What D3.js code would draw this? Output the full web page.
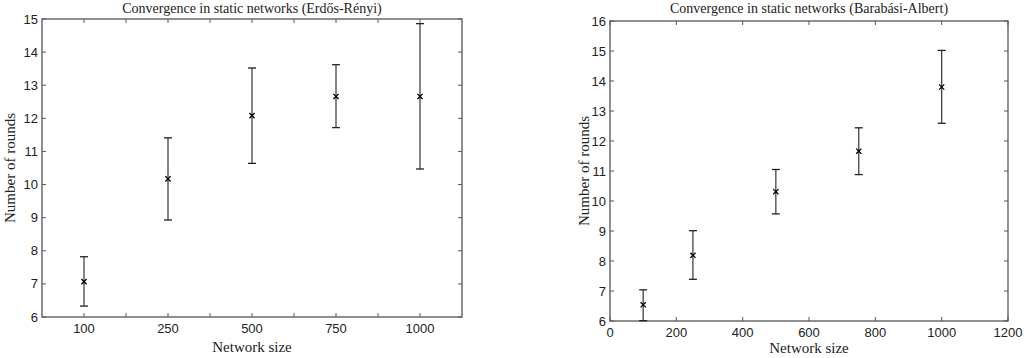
<!DOCTYPE html>
<html lang="en">
<head>
  <meta charset="UTF-8" />
  <title>Convergence in static networks</title>
  <script src="https://d3js.org/d3.v7.min.js"></script>
  <style>
    body { margin: 0; background: #fff; }
    .tick-label { font-family: "Liberation Sans", Arial, sans-serif; font-size: 13px; fill: #222; }
    .axis-label { font-family: "Liberation Serif", "DejaVu Serif", serif; font-size: 15px; fill: #222; }
    .title { font-family: "Liberation Serif", "DejaVu Serif", serif; font-size: 14px; fill: #222; }
  </style>
</head>
<body>
  <svg id="chart" width="1024" height="358"></svg>
  <script>
    // Left: Erdős-Rényi (categorical x)
    const erSizes = [100, 250, 500, 750, 1000];
    const erMean = [7.07, 10.17, 12.08, 12.66, 12.66];
    const erLow = [6.33, 8.93, 10.64, 11.72, 10.47];
    const erHigh = [7.82, 11.41, 13.52, 13.62, 14.86];

    // Right: Barabási-Albert (numeric x)
    const baSizes = [100, 250, 500, 750, 1000];
    const baMean = [6.54, 8.19, 10.31, 11.66, 13.80];
    const baLow = [6.01, 7.39, 9.57, 10.88, 12.59];
    const baHigh = [7.04, 9.01, 11.05, 12.44, 15.02];

    const svg = d3.select("#chart");
    const frame = "#555";
    const tickLen = 4;

    function drawPanel(opts) {
      const { left, right, top, bottom, x, y, xTicks, xLabelFmt, yTicks, title, pts } = opts;
      x.range([left, right]);
      y.range([bottom, top]);
      const g = svg.append("g");

      // frame box
      g.append("rect")
        .attr("x", left).attr("y", top)
        .attr("width", right - left).attr("height", bottom - top)
        .attr("fill", "none").attr("stroke", frame).attr("stroke-width", 1.3);

      // x ticks, inward on bottom and top
      xTicks.forEach((t) => {
        const px = x(t);
        g.append("line").attr("x1", px).attr("x2", px)
          .attr("y1", bottom).attr("y2", bottom - tickLen)
          .attr("stroke", frame).attr("stroke-width", 1);
        g.append("line").attr("x1", px).attr("x2", px)
          .attr("y1", top).attr("y2", top + tickLen)
          .attr("stroke", frame).attr("stroke-width", 1);
        const lab = xLabelFmt(t);
        if (lab !== "") {
          g.append("text").attr("class", "tick-label")
            .attr("x", px).attr("y", bottom + 16)
            .attr("text-anchor", "middle").text(lab);
        }
      });

      // y ticks, inward on left and right
      yTicks.forEach((t) => {
        const py = y(t);
        g.append("line").attr("x1", left).attr("x2", left + tickLen)
          .attr("y1", py).attr("y2", py)
          .attr("stroke", frame).attr("stroke-width", 1);
        g.append("line").attr("x1", right).attr("x2", right - tickLen)
          .attr("y1", py).attr("y2", py)
          .attr("stroke", frame).attr("stroke-width", 1);
        g.append("text").attr("class", "tick-label")
          .attr("x", left - 4).attr("y", py + 4.5)
          .attr("text-anchor", "end").text(t);
      });

      // title and labels
      const cx = (left + right) / 2;
      g.append("text").attr("class", "title")
        .attr("x", cx).attr("y", 13).attr("text-anchor", "middle").text(title);
      g.append("text").attr("class", "axis-label")
        .attr("x", cx).attr("y", opts.xLabelY).attr("text-anchor", "middle").text("Network size");
      g.append("text").attr("class", "axis-label")
        .attr("transform", `translate(${opts.yLabelX}, ${(top + bottom) / 2}) rotate(-90)`)
        .attr("text-anchor", "middle").text("Number of rounds");

      // error bars
      const cap = 4;
      pts.forEach((d) => {
        const px = x(d.x);
        g.append("line").attr("x1", px).attr("x2", px)
          .attr("y1", y(d.lo)).attr("y2", y(d.hi))
          .attr("stroke", "#444").attr("stroke-width", 1.3);
        [d.lo, d.hi].forEach((v) => {
          g.append("line").attr("x1", px - cap).attr("x2", px + cap)
            .attr("y1", y(v)).attr("y2", y(v))
            .attr("stroke", "#222").attr("stroke-width", 1.3);
        });
        const py = y(d.m);
        const s = 2.6;
        g.append("path")
          .attr("d", `M${px - s},${py - s}L${px + s},${py + s}M${px - s},${py + s}L${px + s},${py - s}`)
          .attr("stroke", "#000").attr("stroke-width", 1.3).attr("fill", "none");
      });
    }

    // left panel: categories placed at 1..5 on a linear scale
    drawPanel({
      left: 42, right: 462, top: 19, bottom: 317,
      x: d3.scaleLinear().domain([0.5, 5.5]),
      y: d3.scaleLinear().domain([6, 15]),
      xTicks: d3.range(1, 5.01, 0.5),
      xLabelFmt: (t) => (Number.isInteger(t) ? String(erSizes[t - 1]) : ""),
      yTicks: d3.range(6, 16),
      title: "Convergence in static networks (Erdős-Rényi)",
      yLabelX: 15,
      xLabelY: 352,
      pts: erSizes.map((s, i) => ({ x: i + 1, m: erMean[i], lo: erLow[i], hi: erHigh[i] }))
    });

    // right panel
    drawPanel({
      left: 610, right: 1008, top: 21, bottom: 321,
      x: d3.scaleLinear().domain([0, 1200]),
      y: d3.scaleLinear().domain([6, 16]),
      xTicks: d3.range(0, 1201, 200),
      xLabelFmt: (t) => String(t),
      yTicks: d3.range(6, 17),
      title: "Convergence in static networks (Barabási-Albert)",
      yLabelX: 589,
      xLabelY: 353,
      pts: baSizes.map((s, i) => ({ x: s, m: baMean[i], lo: baLow[i], hi: baHigh[i] }))
    });
  </script>
</body>
</html>
